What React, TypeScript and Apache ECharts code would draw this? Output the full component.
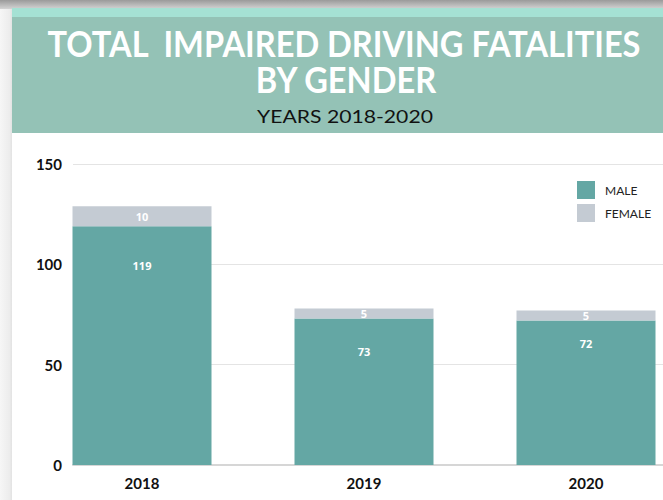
import React, { useEffect, useRef } from "react";
import * as echarts from "echarts";

const years = ["2018", "2019", "2020"];
const maleValues = [119, 73, 72];
const femaleValues = [10, 5, 5];
const yTicks = { min: 0, max: 150, interval: 50 };
const titleLine1 = "TOTAL  IMPAIRED DRIVING FATALITIES";
const titleLine2 = "BY GENDER";
const subtitle = "YEARS 2018-2020";

const MALE_COLOR = "#64a7a4";
const FEMALE_COLOR = "#c4cbd3";
// label distance below the top of each male segment (style, not data)
const maleLabelDistance = [34, 27, 17];

const TITLE_FONT = 'bold 36px Lato, "Noto Sans", sans-serif';
const SUB_FONT = '18px Lato, "Noto Sans", sans-serif';

function measure(text: string, font: string): number {
  const c = document.createElement("canvas");
  const ctx = c.getContext("2d");
  if (!ctx) return 1;
  ctx.font = font;
  return ctx.measureText(text).width || 1;
}

export default function App() {
  const ref = useRef<HTMLDivElement>(null);
  useEffect(() => {
    if (!ref.current) return;
    const chart = echarts.init(ref.current, null, { renderer: "svg" });
    const line1W = measure(titleLine1, TITLE_FONT);
    const titleScale = 594 / line1W;
    const subScale = 176 / measure(subtitle, SUB_FONT);
    const yAxisCommon = {
      type: "value",
      min: yTicks.min,
      max: yTicks.max,
      interval: yTicks.interval,
      axisLine: { show: false },
      axisTick: { show: false },
    };
    const option: any = {
      animation: false,
      backgroundColor: "#ffffff",
      graphic: [
        {
          type: "rect",
          z: -10,
          shape: { x: 0, y: 0, width: 12, height: 500 },
          style: {
            fill: new echarts.graphic.LinearGradient(0, 0, 1, 0, [
              { offset: 0, color: "#f6f6f6" },
              { offset: 0.8, color: "#ececec" },
              { offset: 1, color: "#e2e2e2" },
            ]),
          },
        },
        {
          type: "rect",
          z: -9,
          shape: { x: 0, y: 0, width: 663, height: 9 },
          style: {
            fill: new echarts.graphic.LinearGradient(0, 0, 0, 1, [
              { offset: 0, color: "#9a9a9a" },
              { offset: 1, color: "#d4d4d4" },
            ]),
          },
        },
        {
          type: "rect",
          z: -8,
          shape: { x: 12, y: 8, width: 651, height: 10 },
          style: { fill: "#a5e1d4" },
        },
        {
          type: "rect",
          z: -8,
          shape: { x: 12, y: 17, width: 651, height: 116 },
          style: { fill: "#94c2b6" },
        },
        {
          type: "text",
          x: 344,
          y: 43,
          scaleX: titleScale,
          style: {
            text: titleLine1,
            fill: "#ffffff",
            font: TITLE_FONT,
            textAlign: "center",
            textVerticalAlign: "middle",
          },
        },
        {
          type: "text",
          x: 346,
          y: 79,
          scaleX: titleScale,
          style: {
            text: titleLine2,
            fill: "#ffffff",
            font: TITLE_FONT,
            textAlign: "center",
            textVerticalAlign: "middle",
          },
        },
        {
          type: "text",
          x: 345,
          y: 116,
          scaleX: subScale,
          style: {
            text: subtitle,
            fill: "#111111",
            font: SUB_FONT,
            textAlign: "center",
            textVerticalAlign: "middle",
          },
        },
      ],
      legend: {
        orient: "vertical",
        left: 572,
        top: 176,
        itemWidth: 18,
        itemHeight: 18,
        itemGap: 5,
        icon: "rect",
        data: ["MALE", "FEMALE"],
        textStyle: {
          fontFamily: "Lato",
          fontSize: 12,
          color: "#222222",
          padding: [0, 0, 0, 5],
        },
      },
      grid: [
        // bars grid: category bands 222px wide, first centred at x=142
        {
          left: 31,
          width: 666,
          top: 164,
          bottom: 35,
          containLabel: false,
          outerBoundsMode: "none",
        },
        // frame grid: gridlines / y labels start at x=73
        {
          left: 73,
          right: 0,
          top: 164,
          bottom: 35,
          containLabel: false,
          outerBoundsMode: "none",
        },
      ],
      xAxis: [
        {
          type: "category",
          gridIndex: 0,
          data: years,
          axisLine: { show: false },
          axisTick: { show: false },
          axisLabel: {
            fontFamily: "Lato",
            fontWeight: "bold",
            fontSize: 15,
            color: "#111111",
            margin: 10,
          },
        },
        {
          type: "value",
          gridIndex: 1,
          min: 0,
          max: 1,
          splitLine: { show: false },
          axisTick: { show: false },
          axisLabel: { show: false },
          axisLine: { show: true, lineStyle: { color: "#d6d6d6", width: 2 } },
          z: 1,
        },
      ],
      yAxis: [
        {
          ...yAxisCommon,
          gridIndex: 0,
          splitLine: { show: false },
          axisLabel: { show: false },
        },
        {
          ...yAxisCommon,
          gridIndex: 1,
          splitLine: { lineStyle: { color: "#e4e4e4", width: 1 } },
          axisLabel: {
            fontFamily: "Lato",
            fontWeight: "bold",
            fontSize: 15,
            color: "#111111",
            margin: 11,
          },
        },
      ],
      series: [
        {
          name: "MALE",
          type: "bar",
          stack: "total",
          xAxisIndex: 0,
          yAxisIndex: 0,
          barWidth: 139,
          itemStyle: { color: MALE_COLOR },
          data: maleValues.map((v, i) => ({
            value: v,
            label: { distance: maleLabelDistance[i] },
          })),
          label: {
            show: true,
            position: "insideTop",
            color: "#ffffff",
            fontFamily: "Open Sans",
            fontWeight: "bold",
            fontSize: 11,
          },
        },
        {
          name: "FEMALE",
          type: "bar",
          stack: "total",
          xAxisIndex: 0,
          yAxisIndex: 0,
          barWidth: 139,
          itemStyle: { color: FEMALE_COLOR },
          data: femaleValues,
          label: {
            show: true,
            position: "inside",
            color: "#ffffff",
            fontFamily: "Open Sans",
            fontWeight: "bold",
            fontSize: 11,
          },
        },
      ],
    };
    chart.setOption(option);
    return () => chart.dispose();
  }, []);
  return (
    <div
      ref={ref}
      style={{ position: "fixed", left: 0, top: 0, width: 663, height: 500 }}
    />
  );
}
